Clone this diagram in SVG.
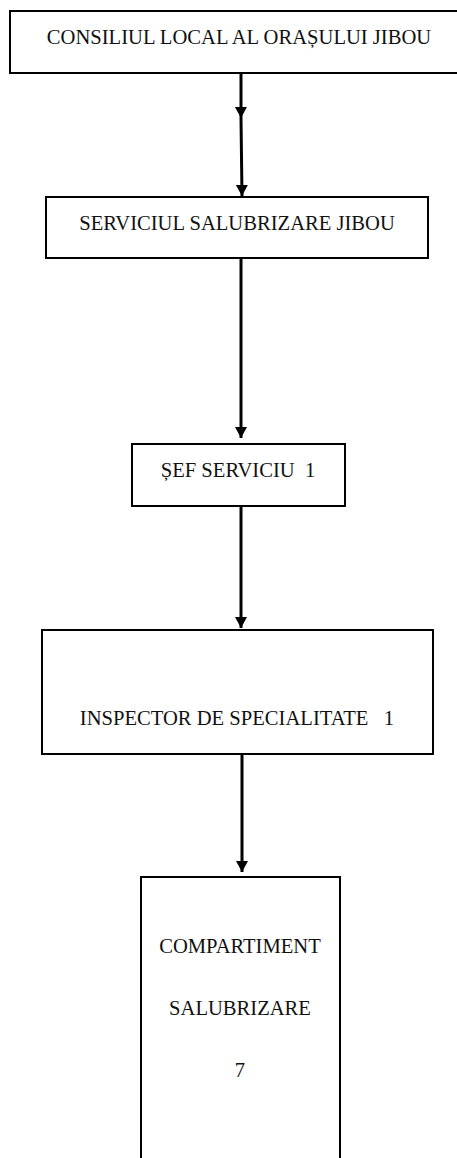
<svg xmlns="http://www.w3.org/2000/svg" width="457" height="1158" viewBox="0 0 457 1158">
<style>
.box{fill:#fff;stroke:#000;stroke-width:2}
.lbl{font-size:20.6px;fill:#111;text-anchor:middle}
.conn{fill:none;stroke:#000;stroke-width:3}
</style>
<defs>
<marker id="ah" markerUnits="userSpaceOnUse" markerWidth="14" markerHeight="14" refX="11" refY="6" orient="auto">
<path d="M0,0 L11,6 L0,12 Z" fill="#000"/>
</marker>
</defs>
<rect width="457" height="1158" fill="#fff"/>
<g font-family="'Liberation Serif', 'DejaVu Serif', serif">
<g id="n1">
<rect class="box" x="10" y="11" width="452" height="62" stroke-width="2.5"/>
<text class="lbl" x="239" y="44">CONSILIUL LOCAL AL ORAȘULUI JIBOU</text>
</g>
<g id="n2">
<rect class="box" x="46" y="197" width="382" height="61"/>
<text class="lbl" x="237" y="230">SERVICIUL SALUBRIZARE JIBOU</text>
</g>
<g id="n3">
<rect class="box" x="132" y="444" width="213" height="62"/>
<text class="lbl" x="238" y="477" xml:space="preserve">ȘEF SERVICIU  1</text>
</g>
<g id="n4">
<rect class="box" x="42" y="630" width="391" height="124"/>
<text class="lbl" x="237" y="725" xml:space="preserve">INSPECTOR DE SPECIALITATE   1</text>
</g>
<g id="n5">
<rect class="box" x="141" y="877" width="199" height="290"/>
<text class="lbl" x="240" y="953">COMPARTIMENT</text>
<text class="lbl" x="240" y="1015">SALUBRIZARE</text>
<text class="lbl" x="240" y="1077">7</text>
</g>
</g>
<g id="connectors">
<path class="conn" d="M241,74 L241,118 L242,196" marker-mid="url(#ah)" marker-end="url(#ah)"/>
<path class="conn" d="M241,259 L241,438" marker-end="url(#ah)"/>
<path class="conn" d="M241,507 L241,628" marker-end="url(#ah)"/>
<path class="conn" d="M242,755 L242,872" marker-end="url(#ah)"/>
</g>
</svg>
